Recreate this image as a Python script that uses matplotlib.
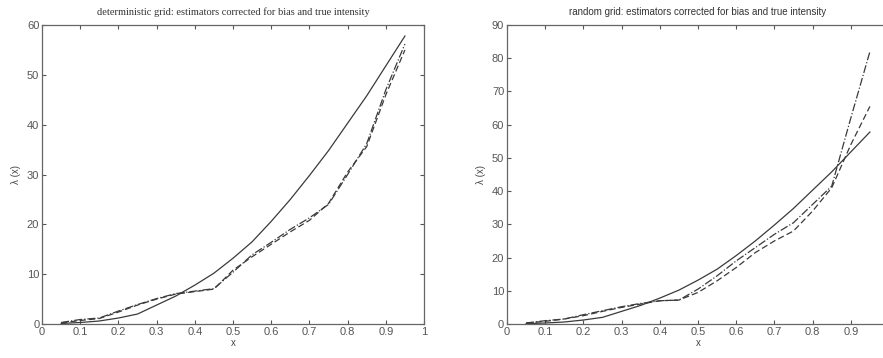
import numpy as np
import matplotlib.pyplot as plt

# grid points where the estimators are evaluated
x = [0.05, 0.10, 0.15, 0.20, 0.25, 0.30, 0.35, 0.40, 0.45, 0.50,
     0.55, 0.60, 0.65, 0.70, 0.75, 0.80, 0.85, 0.90, 0.95]

# true intensity (same in both panels)
lam_true = [0.1, 0.3, 0.6, 1.2, 2.0, 3.8, 5.6, 7.8, 10.2, 13.2,
            16.5, 20.6, 25.0, 29.8, 34.8, 40.3, 45.8, 51.8, 57.8]

# deterministic grid: bias corrected estimators
det_est1 = [0.2, 0.7, 1.1, 2.4, 3.8, 5.0, 6.0, 6.5, 7.0, 10.8,
            13.5, 16.0, 18.5, 20.8, 24.2, 30.5, 35.6, 46.0, 55.0]
det_est2 = [0.3, 0.9, 1.2, 2.6, 3.9, 5.1, 6.1, 6.6, 7.1, 10.4,
            13.9, 16.4, 19.0, 21.3, 24.0, 30.0, 36.2, 47.0, 56.2]

# random grid: bias corrected estimators
rnd_est1 = [0.3, 0.8, 1.5, 2.5, 3.8, 5.0, 6.0, 7.0, 7.2, 9.5,
            13.0, 17.0, 21.5, 25.0, 28.0, 34.0, 41.0, 54.0, 65.5]
rnd_est2 = [0.3, 1.0, 1.5, 2.8, 4.0, 5.2, 6.2, 7.0, 7.2, 10.5,
            14.5, 19.0, 23.0, 27.0, 30.5, 36.0, 41.5, 62.0, 82.0]

xticks = np.arange(0, 1.01, 0.1)
xticklabels = ['0', '0.1', '0.2', '0.3', '0.4', '0.5', '0.6', '0.7', '0.8', '0.9', '1']

line_col = '#3a3a3a'
lw = 0.9

plt.rcParams['font.family'] = ['Liberation Sans', 'DejaVu Sans']

fig = plt.figure(figsize=(8.83, 3.58), dpi=100)
ax1 = fig.add_axes([0.0476, 0.095, 0.4326, 0.835])
ax2 = fig.add_axes([0.5742, 0.095, 0.4326, 0.835])


def style_axes(ax, ymax, labels):
    ax.set_xlim(0, 1)
    ax.set_ylim(0, ymax)
    ax.set_xticks(xticks)
    ax.set_xticklabels(labels)
    ax.set_yticks(np.arange(0, ymax + 1, 10))
    ax.tick_params(direction='in', top=True, right=True, length=3,
                   width=0.8, labelsize=8, colors='#555555', pad=2)
    for sp in ax.spines.values():
        sp.set_color('#666666')
        sp.set_linewidth(0.9)
    ax.set_xlabel('x', fontsize=7, color='#444444', labelpad=1)
    ax.set_ylabel('λ (x)', fontsize=7, color='#444444', labelpad=4)


ax1.plot(x, lam_true, '-', color=line_col, lw=lw)
ax1.plot(x, det_est1, '--', color=line_col, lw=lw, dashes=(5, 2.5))
ax1.plot(x, det_est2, '-.', color=line_col, lw=lw)
style_axes(ax1, 60, xticklabels)
ax1.set_title('deterministic grid: estimators corrected for bias and true intensity',
              fontsize=7.5, family='Liberation Serif', color='#333333', pad=7)

ax2.plot(x, lam_true, '-', color=line_col, lw=lw)
ax2.plot(x, rnd_est1, '--', color=line_col, lw=lw, dashes=(5, 2.5))
ax2.plot(x, rnd_est2, '-.', color=line_col, lw=lw)
# the last label falls outside the figure on this panel
style_axes(ax2, 90, xticklabels[:-1] + [''])
ax2.set_title('random grid: estimators corrected for bias and true intensity',
              fontsize=7, color='#333333', pad=7)

fig.savefig('out.png', dpi=100)
